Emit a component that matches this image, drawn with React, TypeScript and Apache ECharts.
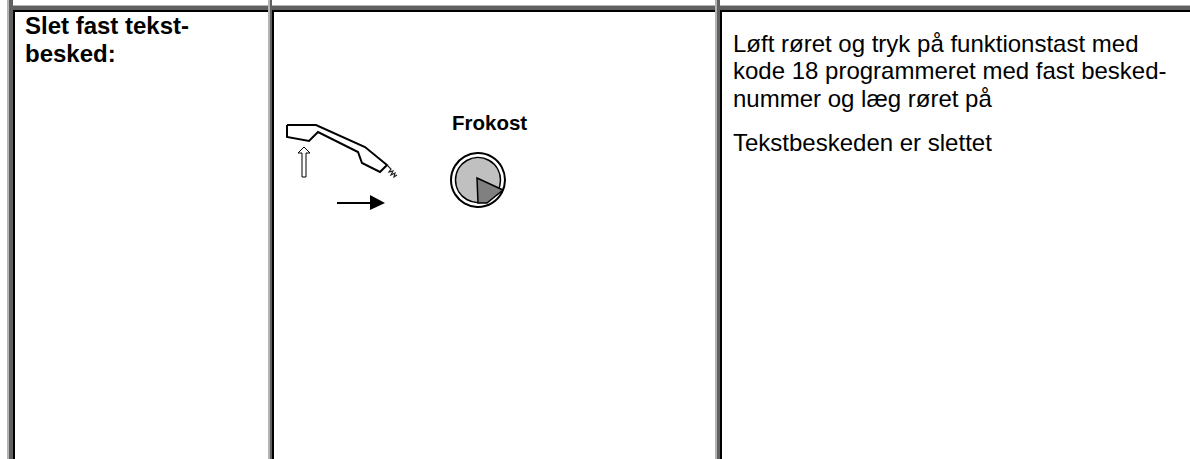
import React, { useEffect, useRef } from "react";
import * as echarts from "echarts";

const W = 1190, H = 459;
const FONT = '"Liberation Sans", Arial, sans-serif';
const leftTitle = ["Slet fast tekst-", "besked:"];
const keyLabel = "Frokost";
const instructions = ["Løft røret og tryk på funktionstast med", "kode 18 programmeret med fast besked-", "nummer og læg røret på"];
const result = "Tekstbeskeden er slettet";
const columnBars = [7, 268, 715];
const darkWidths = [4, 2, 3];

export default function App() {
  const ref = useRef<HTMLDivElement>(null);
  useEffect(() => {
    const chart = echarts.init(ref.current!, undefined, { renderer: "svg" });
    const t = (x: number, baseline: number, text: string, size: number, bold = false) => ({
      type: "text", x, y: baseline - Math.round(size * 0.875),
      style: { text, x: 0, y: 0, fill: "#000", font: `${bold ? "bold " : ""}${size}px ${FONT}` },
    });
    const rect = (x: number, y: number, width: number, height: number, fill: string) => ({ type: "rect", shape: { x, y, width, height }, style: { fill } });
    const bars: any[] = [
      rect(7, 5, 1183, 1, "#b4b4b4"),
      rect(7, 6, 1183, 4, "#606060"),
      rect(7, 10, 1183, 2, "#000"),
    ];
    columnBars.forEach((x, i) => {
      const dark = darkWidths[i];
      bars.push(rect(x, 0, 2, H, "#b4b4b4"), rect(x + 2, 0, dark, H, "#606060"));
      bars.push(rect(x + 2 + dark, 12, 2, H, "#000"));
    });
    chart.setOption({
      animation: false,
      graphic: [
        ...bars,
        t(25, 34, leftTitle[0], 24, true), t(25, 62, leftTitle[1], 24, true),
        t(452, 130, keyLabel, 20.5, true),
        t(733, 52, instructions[0], 24), t(733, 79, instructions[1], 24), t(733, 107, instructions[2], 24),
        t(733, 151, result, 24),
        { type: "polyline", shape: { points: [[287,125],[316,125],[365,147],[387,165],[380,172],[362,163],[358,152],[318,132],[309,141],[287,137],[287,125]] }, style: { stroke: "#000", fill: "none", lineWidth: 2 } },
        { type: "polygon", shape: { points: [[302,177],[302,153],[298,153],[304,147],[310,153],[306,153],[306,177]] }, style: { stroke: "#000", fill: "#fff", lineWidth: 1 } },
        { type: "line", shape: { x1: 337, y1: 203, x2: 371, y2: 203 }, style: { stroke: "#000", lineWidth: 2 } },
        { type: "polygon", shape: { points: [[370,195],[385,203],[370,210]] }, style: { fill: "#000" } },
        { type: "polyline", shape: { points: [[387,165],[391,169],[389,172],[393,171],[391,175],[395,173],[394,177],[397,175]] }, style: { stroke: "#222", fill: "none", lineWidth: 1.2 } },
        { type: "circle", shape: { cx: 478, cy: 180, r: 27 }, style: { fill: "#fff", stroke: "#000", lineWidth: 2 } },
        { type: "circle", shape: { cx: 478, cy: 180, r: 22.5 }, style: { fill: "#c0c0c0", stroke: "#000", lineWidth: 1.5 } },
        { type: "polygon", shape: { points: [[477,178],[503,190],[487,203],[478,203]] }, style: { fill: "#808080", stroke: "#000", lineWidth: 1.5 } },
      ],
    });
    return () => chart.dispose();
  }, []);
  return <div ref={ref} style={{ position: "fixed", left: 0, top: 0, width: W, height: H, background: "#fff" }} />;
}
